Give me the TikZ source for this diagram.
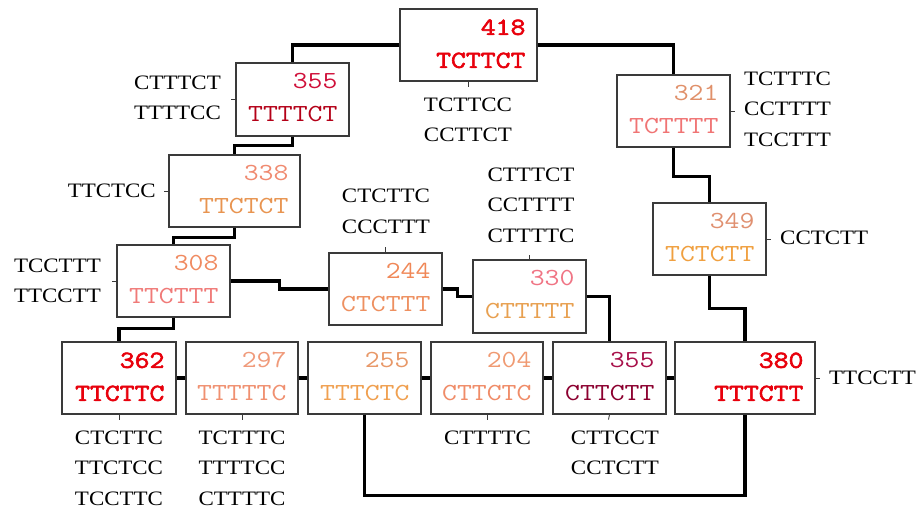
\documentclass[tikz,border=0pt]{standalone}
\usepackage{fontspec}
\usetikzlibrary{calc}
\newfontfamily\monofont[FakeStretch=1.18]{Latin Modern Mono}
\newfontfamily\monoboldfont[FakeStretch=1.18,FakeBold=2.5]{Latin Modern Mono}
\newfontfamily\labfont[FakeStretch=1.12]{Liberation Serif}

\definecolor{boxgray}{HTML}{3A3A3A}
\definecolor{hot}{HTML}{E8000C}
\definecolor{cAn}{HTML}{D0103A}\definecolor{cAs}{HTML}{B40018}
\definecolor{cBn}{HTML}{A8104A}\definecolor{cBs}{HTML}{8C0030}
\definecolor{cCn}{HTML}{F08A70}\definecolor{cCs}{HTML}{E89450}
\definecolor{cDn}{HTML}{F08A60}\definecolor{cDs}{HTML}{F07A78}
\definecolor{cEn}{HTML}{F08858}\definecolor{cEs}{HTML}{EE9060}
\definecolor{cFn}{HTML}{F07484}\definecolor{cFs}{HTML}{E8A050}
\definecolor{cGn}{HTML}{E0906A}\definecolor{cGs}{HTML}{F07474}
\definecolor{cHn}{HTML}{E09070}\definecolor{cHs}{HTML}{F0A040}
\definecolor{cIn}{HTML}{F09A7A}\definecolor{cIs}{HTML}{F09070}
\definecolor{cJn}{HTML}{E89868}\definecolor{cJs}{HTML}{F0A050}
\definecolor{cKn}{HTML}{F09A72}\definecolor{cKs}{HTML}{F08C68}

% #1 name, #2-#5 corners (x1,y1,x2,y2), #6 count, #7 sequence, #8/#9 text styles
\newcommand\seqbox[9]{%
  \node[gbox, minimum width={#4-#2}, minimum height={#5-#3}] (#1) at ({(#2+#4)/2},{(#3+#5)/2}) {};
  \node[#8] (#1n) at ($(#1.north east)+(-12,26.5)$) {#6};
  \node[#9] (#1s) at ($(#1.north east)+(-12,59.5)$) {#7};
}

\begin{document}
\begin{tikzpicture}[x=1pt,y=-1pt,
  gbox/.style={draw=boxgray, line width=1.3pt, inner sep=0pt, fill=white},
  txt/.style={anchor=base east, inner sep=0pt, font=\fontsize{24.5}{24.5}\monofont},
  txtb/.style={anchor=base east, inner sep=0pt, font=\fontsize{24.5}{24.5}\monoboldfont, text=hot},
  conn/.style={line width=3.4pt},
  tick/.style={line width=0.9pt, draw=boxgray},
  lab/.style={inner sep=0pt, align=center, font=\fontsize{20.5}{30.5}\labfont},
]
\useasboundingbox (0,0) rectangle (922,512);

% boxes
\seqbox{b418}{400}{9}{537}{81}{418}{TCTTCT}{txtb}{txtb}
\seqbox{b355}{236}{63}{349}{136}{355}{TTTTCT}{txt,text=cAn}{txt,text=cAs}
\seqbox{b338}{169}{155}{300}{227}{338}{TTCTCT}{txt,text=cCn}{txt,text=cCs}
\seqbox{b308}{117}{245}{230}{317}{308}{TTCTTT}{txt,text=cDn}{txt,text=cDs}
\seqbox{b244}{329}{253}{442}{325}{244}{CTCTTT}{txt,text=cEn}{txt,text=cEs}
\seqbox{b330}{473}{260}{586}{333}{330}{CTTTTT}{txt,text=cFn}{txt,text=cFs}
\seqbox{b321}{617}{75}{730}{147}{321}{TCTTTT}{txt,text=cGn}{txt,text=cGs}
\seqbox{b349}{653}{203}{766}{275}{349}{TCTCTT}{txt,text=cHn}{txt,text=cHs}
\seqbox{b362}{62}{342}{176}{414}{362}{TTCTTC}{txtb}{txtb}
\seqbox{b297}{186}{342}{298}{414}{297}{TTTTTC}{txt,text=cIn}{txt,text=cIs}
\seqbox{b255}{308}{342}{421}{414}{255}{TTTCTC}{txt,text=cJn}{txt,text=cJs}
\seqbox{b204}{431}{342}{543}{414}{204}{CTTCTC}{txt,text=cKn}{txt,text=cKs}
\seqbox{b355x}{553}{342}{666}{414}{355}{CTTCTT}{txt,text=cBn}{txt,text=cBs}
\seqbox{b380}{675}{342}{815}{414}{380}{TTTCTT}{txtb}{txtb}

% connectors
\draw[conn] (b418.west) -| (b355.north);
\draw[conn] (b418.east) -| (b321.north);
\draw[conn] (b355.south) -- ++(0,9) -| (b338.north);
\draw[conn] (b338.south) -- ++(0,10) -| (b308.north);
\draw[conn] (b308.east) -- ++(49,0) |- (b244.west);
\draw[conn] (b244.east) -- ++(15,0) |- (b330.west);
\draw[conn] (b330.east) -| (b355x.north);
\draw[conn] (b321.south) -- ++(0,29) -| (b349.north);
\draw[conn] (b349.south) -- ++(0,33) -| (b380.north);
\draw[conn] (b308.south) -- ++(0,11) -| (b362.north);
\draw[conn] (b362.east) -- (b297.west);
\draw[conn] (b297.east) -- (b255.west);
\draw[conn] (b255.east) -- (b204.west);
\draw[conn] (b204.east) -- (b355x.west);
\draw[conn] (b355x.east) -- (b380.west);
\draw[conn] (b255.south) -- ++(0,81) -| (b380.south);

% ticks to the neighbour lists
\coordinate (t418) at ($(b418.south)+(0,5)$);   \draw[tick] (b418.south) -- (t418);
\coordinate (t355) at ($(b355.west)+(-4,0)$);   \draw[tick] (b355.west) -- (t355);
\coordinate (t338) at ($(b338.west)+(-4,0)$);   \draw[tick] (b338.west) -- (t338);
\coordinate (t308) at ($(b308.west)+(-4,0)$);   \draw[tick] (b308.west) -- (t308);
\coordinate (t244) at ($(b244.north)+(0,-5)$);  \draw[tick] (b244.north) -- (t244);
\coordinate (t330) at ($(b330.north)+(0,-4)$);  \draw[tick] (b330.north) -- (t330);
\coordinate (t321) at ($(b321.east)+(4,0)$);    \draw[tick] (b321.east) -- (t321);
\coordinate (t349) at ($(b349.east)+(4,0)$);    \draw[tick] (b349.east) -- (t349);
\coordinate (t380) at ($(b380.east)+(4,0)$);    \draw[tick] (b380.east) -- (t380);
\coordinate (t362) at ($(b362.south)+(0,5)$);   \draw[tick] (b362.south) -- (t362);
\coordinate (t297) at ($(b297.south)+(0,5)$);   \draw[tick] (b297.south) -- (t297);
\coordinate (t204) at ($(b204.south)+(0,5)$);   \draw[tick] (b204.south) -- (t204);
\coordinate (t355x) at ($(b355x.south)+(-1,5)$); \draw[tick] (b355x.south) -- (t355x);

% neighbour lists
\node[lab] (l418) at (468,120) {TCTTCC\\CCTTCT};
\node[lab, anchor=east] (l355) at (221,98) {CTTTCT\\TTTTCC};
\node[lab, anchor=east] (l338) at (156,191) {TTCTCC};
\node[lab, anchor=east] (l308) at (101,281) {TCCTTT\\TTCCTT};
\node[lab] (l244) at (386,211.5) {CTCTTC\\CCCTTT};
\node[lab] (l330) at (531,205) {CTTTCT\\CCTTTT\\CTTTTC};
\node[lab, anchor=west] (l321) at (744,109) {TCTTTC\\CCTTTT\\TCCTTT};
\node[lab, anchor=west] (l349) at (780,238) {CCTCTT};
\node[lab, anchor=west] (l380) at (829,378) {TTCCTT};
\node[lab] (l362) at (119,468) {CTCTTC\\TTCTCC\\TCCTTC};
\node[lab] (l297) at (242,468) {TCTTTC\\TTTTCC\\CTTTTC};
\node[lab] (l204) at (487.5,437.5) {CTTTTC};
\node[lab] (l355x) at (615,453) {CTTCCT\\CCTCTT};
\end{tikzpicture}
\end{document}
